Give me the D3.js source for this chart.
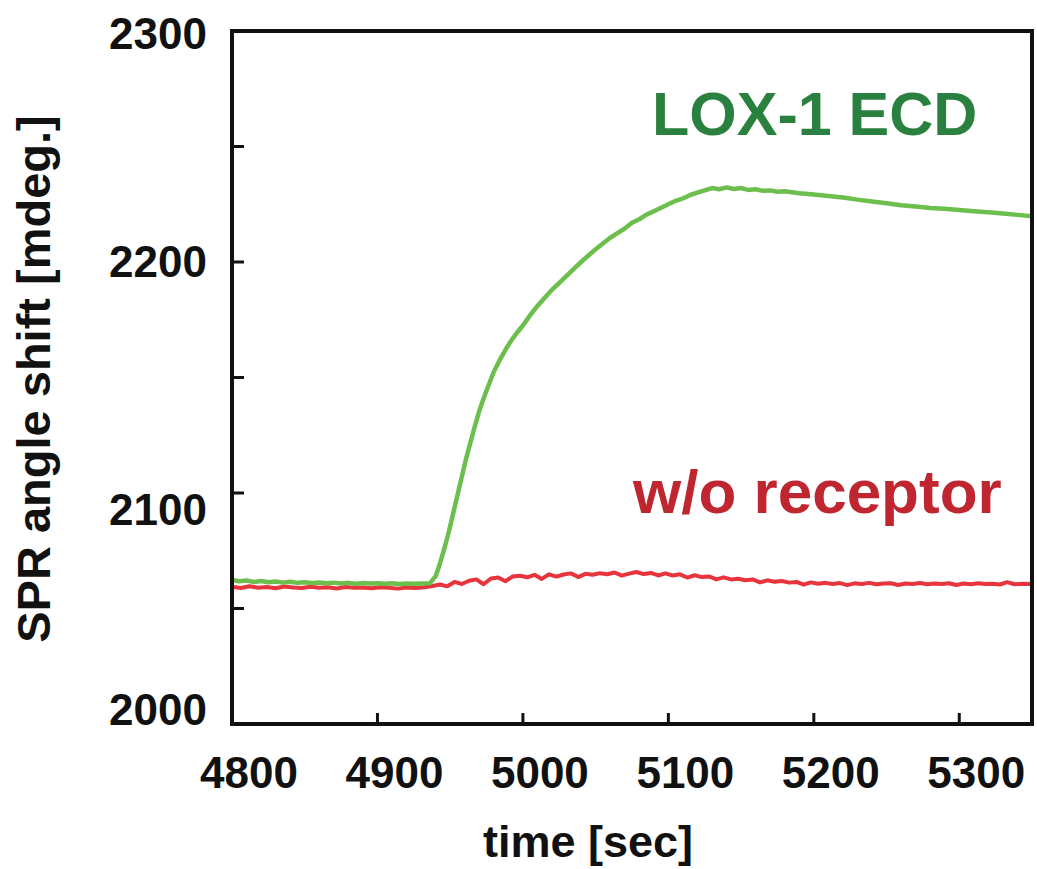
<!DOCTYPE html>
<html><head><meta charset="utf-8">
<script src="https://cdn.jsdelivr.net/npm/d3@7"></script>
<style>body{margin:0;background:#fff}svg{display:block}text{font-family:"Liberation Sans",Arial,sans-serif;font-weight:bold}</style>
</head><body><svg id="c" width="1037" height="869"></svg>
<script>
// ---- data ----
const xTicks = [4800, 4900, 5000, 5100, 5200, 5300];
const yTicks = [2000, 2100, 2200, 2300];
const yMinorTicks = [2050, 2150, 2250];
const xLabel = "time [sec]";
const yLabel = "SPR angle shift [mdeg.]";
const seriesNames = ["LOX-1 ECD", "w/o receptor"];

const loxTime = [4800,4805,4810,4815,4820,4825,4830,4835,4840,4845,4850,4855,4860,4865,4870,4875,4880,4885,4890,4895,4900,4905,4910,4915,4920,4925,4930,4936,
 4940,4943,4946,4949,4952,4955,4958,4961,4964,4967,4970,4973,4976,4980,4984,4988,4992,4996,5000,5005,5010,5015,5020,5025,5030,5035,5040,5045,5050,5055,5060,5065,5070,5075,5080,5085,5090,5095,5100,5105,5110,5115,5120,5125,5130,5135,5140,5145,5150,5155,5160,5165,5170,5175,5180,5190,5200,5210,5220,5230,5240,5250,5260,5270,5280,5290,5300,5310,5320,5330,5340,5350];
const loxValue = [2062.3,2061.8,2062.1,2061.5,2061.9,2061.4,2061.7,2061.2,2061.6,2061.1,2061.4,2061.0,2061.3,2060.9,2061.2,2060.8,2061.1,2060.7,2061.0,2060.8,2060.9,2060.7,2060.9,2060.6,2060.8,2060.7,2060.8,2060.9,
 2064.0,2069.5,2076.0,2083.0,2091.0,2099.0,2107.0,2115.0,2122.0,2129.0,2135.5,2141.0,2146.0,2152.5,2157.5,2162.0,2166.0,2169.5,2172.5,2177.0,2181.0,2184.5,2188.0,2191.0,2194.0,2197.0,2200.0,2202.8,2205.5,2208.0,2210.5,2212.5,2214.5,2217.0,2218.5,2220.5,2222.0,2223.5,2225.0,2226.5,2227.5,2229.0,2230.0,2231.0,2232.0,2231.5,2232.3,2231.6,2232.0,2231.2,2231.5,2230.8,2231.0,2230.4,2230.6,2229.8,2229.2,2228.6,2227.9,2227.0,2226.2,2225.4,2224.6,2224.0,2223.4,2223.0,2222.5,2222.0,2221.5,2221.0,2220.4,2219.8];

const ctrlTime = [4800,4806,4812,4818,4824,4830,4836,4842,4848,4854,4860,4866,4872,4878,4884,4890,4896,4902,4908,4914,4920,4926,4932,4937,
 4943,4948,4953,4958,4963,4968,4973,4978,4983,4988,4993,4998,5003,5008,5013,5018,5023,5028,5033,5038,5043,5048,5053,5058,5063,5068,5073,5078,5083,5088,5093,5098,5103,5108,5113,5118,5123,5128,5133,5138,5143,5148,5153,5158,5163,5168,5173,5178,5183,5188,5193,5198,5203,5208,5213,5218,5223,5228,5233,5238,5243,5248,5253,5258,5263,5268,5273,5278,5283,5288,5293,5298,5303,5308,5313,5318,5323,5328,5333,5338,5343,5350];
const ctrlValue = [2059.4,2058.9,2059.6,2059.0,2059.3,2058.8,2059.5,2059.1,2058.9,2059.4,2059.0,2059.2,2058.7,2059.3,2059.0,2059.1,2058.8,2059.2,2059.0,2058.6,2059.1,2058.9,2059.2,2059.6,
 2060.4,2059.6,2061.5,2060.6,2062.0,2062.6,2060.5,2063.0,2063.4,2061.8,2063.9,2064.2,2063.5,2064.6,2062.8,2064.8,2063.8,2064.7,2065.2,2063.6,2065.0,2064.6,2065.3,2064.8,2065.6,2064.2,2065.1,2065.8,2064.9,2065.4,2064.3,2065.2,2064.3,2064.8,2063.4,2064.4,2063.6,2063.9,2062.6,2063.5,2062.6,2062.9,2062.2,2062.6,2061.3,2062.2,2061.6,2061.9,2061.2,2061.5,2060.3,2061.3,2060.7,2061.1,2060.6,2061.0,2060.1,2060.9,2060.6,2061.1,2060.5,2060.8,2060.9,2060.2,2060.8,2060.6,2061.0,2060.5,2060.8,2060.6,2060.9,2060.2,2060.8,2060.5,2060.9,2060.6,2060.7,2060.4,2061.4,2060.5,2060.7,2060.6];

// ---- chart ----
const W = 1037, H = 869;
const m = {left: 232, top: 31, right: 5, bottom: 145};
const svg = d3.select("#c");
const x = d3.scaleLinear().domain([4800, 5350]).range([m.left, W - m.right]);
const y = d3.scaleLinear().domain([2000, 2300]).range([H - m.bottom, m.top]);

const line = d3.line().x((d) => x(d[0])).y((d) => y(d[1]));
const green = d3.zip(loxTime, loxValue);
const red = d3.zip(ctrlTime, ctrlValue);

svg.append("path").datum(red).attr("d", line).attr("fill", "none")
  .attr("stroke", "#e8343c").attr("stroke-width", 4).attr("stroke-linejoin", "round");
svg.append("path").datum(green).attr("d", line).attr("fill", "none")
  .attr("stroke", "#6cbf4c").attr("stroke-width", 4.5).attr("stroke-linejoin", "round");

// frame
svg.append("rect").attr("x", x(4800)).attr("y", y(2300))
  .attr("width", x(5350) - x(4800)).attr("height", y(2000) - y(2300))
  .attr("fill", "none").attr("stroke", "#111").attr("stroke-width", 4);

// inward ticks
svg.selectAll(".xt").data(xTicks.slice(1)).join("line")
  .attr("x1", (d) => x(d)).attr("x2", (d) => x(d))
  .attr("y1", y(2000)).attr("y2", y(2000) - 11)
  .attr("stroke", "#111").attr("stroke-width", 3);
svg.selectAll(".yt").data(yTicks.slice(1, -1).concat(yMinorTicks)).join("line")
  .attr("y1", (d) => y(d)).attr("y2", (d) => y(d))
  .attr("x1", x(4800)).attr("x2", x(4800) + 12)
  .attr("stroke", "#111").attr("stroke-width", 3);

// tick labels
const yLabOff = {2000: -15, 2100: 16, 2200: -1, 2300: 2};
svg.selectAll(".yl").data(yTicks).join("text")
  .attr("x", x(4800) - 25).attr("y", (d) => y(d) + yLabOff[d] + 15.5)
  .attr("text-anchor", "end").attr("font-size", 44).attr("fill", "#111")
  .text((d) => d);
svg.selectAll(".xl").data(xTicks).join("text")
  .attr("x", (d) => x(d) + 17).attr("y", 788)
  .attr("text-anchor", "middle").attr("font-size", 44).attr("fill", "#111")
  .text((d) => d);

// axis titles
svg.append("text").attr("x", 588).attr("y", 857).attr("text-anchor", "middle")
  .attr("font-size", 45).attr("fill", "#111").text(xLabel);
svg.append("text").attr("transform", "translate(50,379) rotate(-90)")
  .attr("text-anchor", "middle").attr("font-size", 47).attr("fill", "#111").text(yLabel);

// series labels
svg.append("text").attr("x", 652).attr("y", 135).attr("font-size", 61)
  .attr("fill", "#2a803e").text(seriesNames[0]);
svg.append("text").attr("x", 633).attr("y", 513).attr("font-size", 62)
  .attr("fill", "#bf2630").text(seriesNames[1]);
</script></body></html>
